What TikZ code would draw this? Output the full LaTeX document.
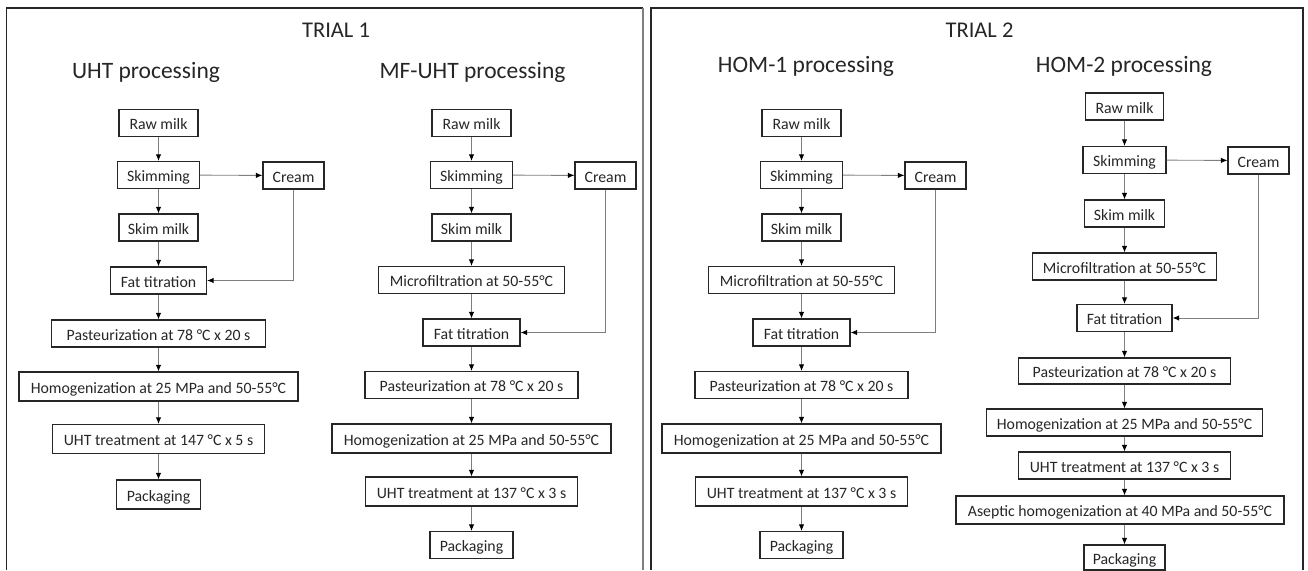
\documentclass[tikz,border=0pt]{standalone}
\usepackage{fontspec}
\setmainfont{Carlito}
\usetikzlibrary{arrows.meta}
\definecolor{lineg}{HTML}{7F7F7F}
\definecolor{boxk}{HTML}{262626}
\tikzset{
  stepbox/.style={draw=boxk, line width=1.2pt, minimum height=27pt, inner xsep=2pt, inner ysep=0pt,
    text height=14.5pt, text depth=1.5pt, font=\fontsize{15.8}{18}\selectfont, text=boxk},
  flow/.style={draw=lineg, line width=0.9pt, -{Latex[length=6.5pt,width=5.5pt,color=black]}},
  paneltitle/.style={anchor=base, font=\fontsize{22.5}{26}\selectfont, text=boxk},
  proctitle/.style={anchor=base, font=\fontsize{23.5}{28}\selectfont, text=boxk},
}
\begin{document}
\begin{tikzpicture}[x=1pt,y=-1pt]
\useasboundingbox (0,0) rectangle (1308,570);
% panel frames
\draw[draw=boxk, line width=1.3pt] (6.5,570) -- (6.5,8) -- (643,8);
\draw[draw=lineg, line width=1.3pt] (643,8) -- (643,570);
\draw[draw=boxk, line width=1.3pt] (651,570) -- (651,8) -- (1303,8) -- (1303,570);
% titles
\node[paneltitle] (t1) at (336,37) {TRIAL 1};
\node[paneltitle] (t2) at (979.5,37) {TRIAL 2};
\node[proctitle] (p1) at (146,78) {UHT processing};
\node[proctitle] (p2) at (472.5,78) {MF-UHT processing};
\node[proctitle] (p3) at (806,72) {HOM-1 processing};
\node[proctitle] (p4) at (1124,72) {HOM-2 processing};

% ---------- UHT ----------
\node[stepbox, minimum width=79pt] (u1) at (158.5,123) {Raw milk};
\node[stepbox, minimum width=82pt] (u2) at (158.5,175) {Skimming};
\node[stepbox, minimum width=61pt] (uc) at (293.5,175.5) {Cream};
\node[stepbox, minimum width=79pt] (u3) at (158.5,227.5) {Skim milk};
\node[stepbox, minimum width=96pt] (u4) at (158.5,280.5) {Fat titration};
\node[stepbox, minimum width=214pt] (u5) at (158.5,333.5) {Pasteurization at 78 °C x 20 s};
\node[stepbox, minimum width=279pt, minimum height=29pt] (u6) at (158.5,386.5) {Homogenization at 25 MPa and 50-55°C};
\node[stepbox, minimum width=212pt, minimum height=29pt] (u7) at (158.5,439) {UHT treatment at 147 °C x 5 s};
\node[stepbox, minimum width=84pt, minimum height=29pt] (u8) at (158.5,494.5) {Packaging};
\draw[flow] (u1) -- (u2);
\draw[flow] (u2) -- (u3);
\draw[flow] (u3) -- (u4);
\draw[flow] (u4) -- (u5);
\draw[flow] (u5) -- (u6);
\draw[flow] (u6) -- (u7);
\draw[flow] (u7) -- (u8);
\draw[flow] (u2) -- (uc);
\draw[flow] (uc.south) |- (u4.east);

% ---------- MF-UHT ----------
\node[stepbox, minimum width=79pt] (m1) at (471.5,123) {Raw milk};
\node[stepbox, minimum width=82pt] (m2) at (471.5,175) {Skimming};
\node[stepbox, minimum width=61pt] (mc) at (605.5,175.5) {Cream};
\node[stepbox, minimum width=79pt] (m3) at (471.5,227.5) {Skim milk};
\node[stepbox, minimum width=186pt] (m4) at (471.5,280) {Microfiltration at 50-55°C};
\node[stepbox, minimum width=97pt] (m5) at (471.5,332.5) {Fat titration};
\node[stepbox, minimum width=213pt] (m6) at (471.5,385) {Pasteurization at 78 °C x 20 s};
\node[stepbox, minimum width=279pt, minimum height=29pt] (m7) at (471.5,438.5) {Homogenization at 25 MPa and 50-55°C};
\node[stepbox, minimum width=212pt, minimum height=29pt] (m8) at (471.5,491.5) {UHT treatment at 137 °C x 3 s};
\node[stepbox, minimum width=83pt] (m9) at (471.5,545) {Packaging};
\draw[flow] (m1) -- (m2);
\draw[flow] (m2) -- (m3);
\draw[flow] (m3) -- (m4);
\draw[flow] (m4) -- (m5);
\draw[flow] (m5) -- (m6);
\draw[flow] (m6) -- (m7);
\draw[flow] (m7) -- (m8);
\draw[flow] (m8) -- (m9);
\draw[flow] (m2) -- (mc);
\draw[flow] (mc.south) |- (m5.east);

% ---------- HOM-1 ----------
\node[stepbox, minimum width=79pt] (h1) at (801.5,123) {Raw milk};
\node[stepbox, minimum width=82pt] (h2) at (801.5,175) {Skimming};
\node[stepbox, minimum width=61pt] (hc) at (935.5,175.5) {Cream};
\node[stepbox, minimum width=79pt] (h3) at (801.5,227.5) {Skim milk};
\node[stepbox, minimum width=186pt] (h4) at (801.5,280) {Microfiltration at 50-55°C};
\node[stepbox, minimum width=97pt] (h5) at (801.5,332.5) {Fat titration};
\node[stepbox, minimum width=213pt] (h6) at (801.5,385) {Pasteurization at 78 °C x 20 s};
\node[stepbox, minimum width=279pt, minimum height=29pt] (h7) at (801.5,438.5) {Homogenization at 25 MPa and 50-55°C};
\node[stepbox, minimum width=212pt, minimum height=29pt] (h8) at (801.5,491.5) {UHT treatment at 137 °C x 3 s};
\node[stepbox, minimum width=83pt] (h9) at (801.5,545) {Packaging};
\draw[flow] (h1) -- (h2);
\draw[flow] (h2) -- (h3);
\draw[flow] (h3) -- (h4);
\draw[flow] (h4) -- (h5);
\draw[flow] (h5) -- (h6);
\draw[flow] (h6) -- (h7);
\draw[flow] (h7) -- (h8);
\draw[flow] (h8) -- (h9);
\draw[flow] (h2) -- (hc);
\draw[flow] (hc.south) |- (h5.east);

% ---------- HOM-2 ----------
\node[stepbox, minimum width=78pt] (k1) at (1124.5,106.5) {Raw milk};
\node[stepbox, minimum width=83pt] (k2) at (1124.5,160) {Skimming};
\node[stepbox, minimum width=61pt] (kc) at (1258.5,160.5) {Cream};
\node[stepbox, minimum width=80pt] (k3) at (1124.5,213.5) {Skim milk};
\node[stepbox, minimum width=184pt] (k4) at (1124.5,266.5) {Microfiltration at 50-55°C};
\node[stepbox, minimum width=95pt] (k5) at (1124.5,318) {Fat titration};
\node[stepbox, minimum width=212pt, minimum height=26pt] (k6) at (1124.5,371) {Pasteurization at 78 °C x 20 s};
\node[stepbox, minimum width=276pt] (k7) at (1124.5,422.5) {Homogenization at 25 MPa and 50-55°C};
\node[stepbox, minimum width=212pt] (k8) at (1124.5,465.5) {UHT treatment at 137 °C x 3 s};
\node[stepbox, minimum width=328pt, minimum height=28pt] (k9) at (1120,510) {Aseptic homogenization at 40 MPa and 50-55°C};
\node[stepbox, minimum width=81pt, minimum height=25pt] (k10) at (1124.5,557.5) {Packaging};
\draw[flow] (k1) -- (k2);
\draw[flow] (k2) -- (k3);
\draw[flow] (k3) -- (k4);
\draw[flow] (k4) -- (k5);
\draw[flow] (k5) -- (k6);
\draw[flow] (k6) -- (k7);
\draw[flow] (k7) -- (k8);
\draw[flow] (k8.south) -- (k8.south |- k9.north);
\draw[flow] (k9.south -| k8.south) -- (k10);
\draw[flow] (k2) -- (kc);
\draw[flow] (kc.south) |- (k5.east);
\end{tikzpicture}
\end{document}
